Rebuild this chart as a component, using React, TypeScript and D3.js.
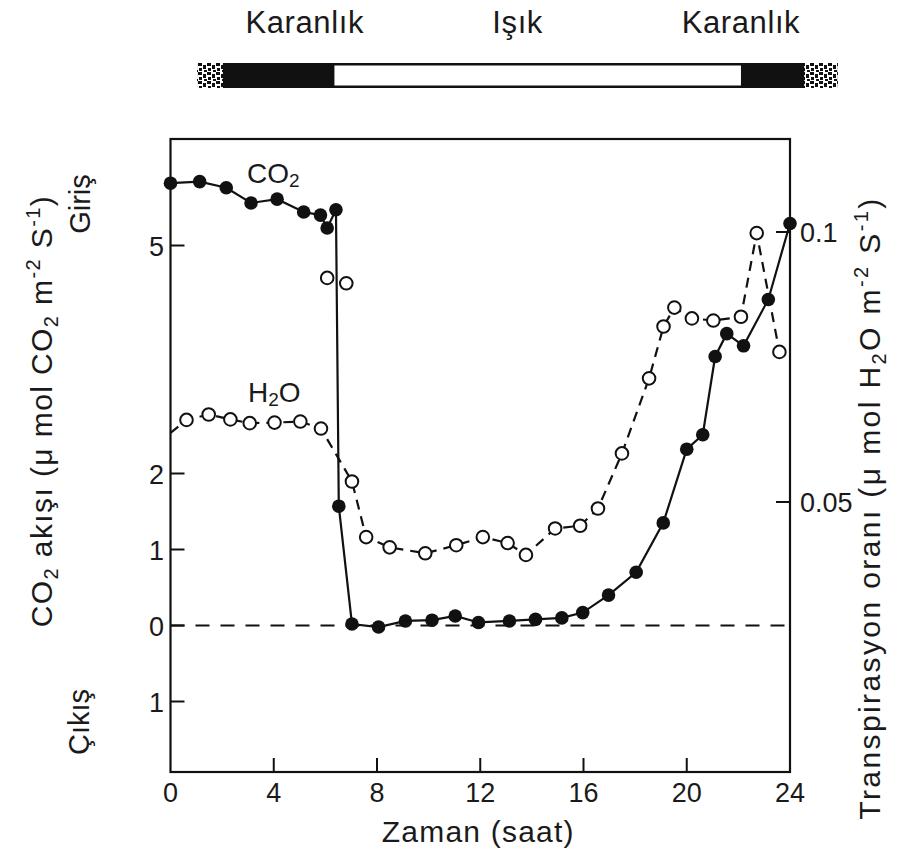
import React from "react";
import * as d3 from "d3";

// ---- data ----
const co2Hours = [0, 1.13, 2.16, 3.12, 4.13, 5.16, 5.81, 6.07, 6.41, 6.52, 7.03, 8.06, 9.1, 10.13, 11.03, 11.93, 13.13, 14.14, 15.16, 15.97, 16.97, 18.04, 19.09, 20.0, 20.62, 21.1, 21.55, 22.2, 23.16, 24.0];
const co2Values = [5.82, 5.84, 5.76, 5.56, 5.61, 5.44, 5.4, 5.23, 5.47, 1.57, 0.02, -0.02, 0.06, 0.07, 0.125, 0.04, 0.06, 0.08, 0.1, 0.17, 0.4, 0.7, 1.35, 2.32, 2.51, 3.54, 3.84, 3.68, 4.29, 5.29];

const h2oHours = [0, 0.62, 1.48, 2.32, 3.07, 4.03, 5.03, 5.83, 7.03, 7.58, 8.49, 9.87, 11.07, 12.1, 13.06, 13.77, 14.9, 15.87, 16.56, 17.49, 18.54, 19.1, 19.52, 20.2, 21.03, 22.1, 22.71, 23.59];
const h2oValues = [0.0628, 0.0652, 0.0662, 0.0653, 0.0646, 0.0647, 0.0649, 0.0636, 0.0538, 0.0435, 0.0416, 0.0405, 0.042, 0.0435, 0.0424, 0.0402, 0.0451, 0.0456, 0.0488, 0.059, 0.0729, 0.0825, 0.086, 0.084, 0.0836, 0.0843, 0.0998, 0.0778];
const h2oExtraHours = [6.07, 6.81];
const h2oExtraValues = [0.0915, 0.0905];

const xTicks = [0, 4, 8, 12, 16, 20, 24];
const leftTicks = [5, 2, 1, 0, -1];
const leftTickLabels = ["5", "2", "1", "0", "1"];
const rightTicks = [0.1, 0.05];
const rightTickLabels = ["0.1", "0.05"];

const periodLabels = ["Karanlık", "Işık", "Karanlık"];
const periodLabelHours = [5.2, 13.45, 22.1];
const lightStart = 6.35;
const lightEnd = 22.1;
const barStart = 1.03;
const barEnd = 25.85;
const stippleLen = 1.0;

const FONT = "'Liberation Sans', Arial, Helvetica, sans-serif";

export default function App() {
  const left = 170.5;
  const right = 790;
  const top = 139;
  const bottom = 772;

  const x = d3.scaleLinear().domain([0, 24]).range([left, right]);
  const yL = d3.scaleLinear().domain([-1, 5]).range([701.5, 245.5]);
  const yR = d3.scaleLinear().domain([0, 0.1]).range([bottom, 232]);

  const co2 = co2Hours.map((h, i) => [h, co2Values[i]] as [number, number]);
  const h2o = h2oHours.map((h, i) => [h, h2oValues[i]] as [number, number]);
  const h2oExtra = h2oExtraHours.map((h, i) => [h, h2oExtraValues[i]] as [number, number]);

  const co2Line = d3.line<[number, number]>().x((d) => x(d[0])).y((d) => yL(d[1]));
  const h2oLine = d3.line<[number, number]>().x((d) => x(d[0])).y((d) => yR(d[1]));

  const barY = 63;
  const barH = 25;
  const tick = 14;

  return (
    <svg
      width={903}
      height={859}
      style={{ position: "absolute", left: 0, top: 0, background: "#fff" }}
      fontFamily={FONT}
    >
      <defs>
        <pattern id="stip" width="9" height="9" patternUnits="userSpaceOnUse">
          <rect width="9" height="9" fill="#fff" />
          <rect x="0" y="0" width="4" height="3" fill="#111" />
          <rect x="5" y="2" width="3" height="4" fill="#111" />
          <rect x="1" y="5" width="3" height="3" fill="#111" />
          <rect x="6" y="7" width="3" height="2" fill="#111" />
        </pattern>
      </defs>
      <rect width={903} height={859} fill="#fff" />

      {/* period labels */}
      {periodLabels.map((t, i) => (
        <text key={i} x={x(periodLabelHours[i])} y={33} fontSize={31} textAnchor="middle" fill="#1a1a1a" letterSpacing={0.6}>
          {t}
        </text>
      ))}

      {/* light/dark bar */}
      <rect x={x(barStart)} y={barY} width={x(barEnd) - x(barStart)} height={barH} fill="#111" />
      <rect x={x(barStart)} y={barY} width={x(barStart + stippleLen) - x(barStart)} height={barH} fill="url(#stip)" />
      <rect x={x(barEnd - stippleLen * 1.3)} y={barY} width={x(barEnd) - x(barEnd - stippleLen * 1.3)} height={barH} fill="url(#stip)" />
      <rect x={x(lightStart)} y={barY + 2.5} width={x(lightEnd) - x(lightStart)} height={barH - 5} fill="#fff" />

      {/* frame */}
      <rect x={left} y={top} width={right - left} height={bottom - top} fill="none" stroke="#111" strokeWidth={2.2} />

      {/* zero dashed line */}
      <line x1={left} x2={right} y1={yL(0)} y2={yL(0)} stroke="#111" strokeWidth={1.8} strokeDasharray="14,11" />

      {/* x ticks */}
      {xTicks.map((t) => (
        <g key={t}>
          {t > 0 && t < 24 && <line x1={x(t)} x2={x(t)} y1={bottom} y2={bottom - tick} stroke="#111" strokeWidth={2} />}
          <text x={x(t)} y={802} fontSize={27} textAnchor="middle" fill="#1a1a1a">
            {t}
          </text>
        </g>
      ))}

      {/* left ticks */}
      {leftTicks.map((t, i) => (
        <g key={i}>
          <line x1={left} x2={left + tick} y1={yL(t)} y2={yL(t)} stroke="#111" strokeWidth={2} />
          <text x={164} y={yL(t) + 10} fontSize={27} textAnchor="end" fill="#1a1a1a">
            {leftTickLabels[i]}
          </text>
        </g>
      ))}

      {/* right ticks */}
      {rightTicks.map((t, i) => (
        <g key={i}>
          <line x1={right} x2={right - tick} y1={yR(t)} y2={yR(t)} stroke="#111" strokeWidth={2} />
          <text x={800} y={yR(t) + 10} fontSize={27} textAnchor="start" fill="#1a1a1a">
            {rightTickLabels[i]}
          </text>
        </g>
      ))}

      {/* x title */}
      <text x={(left + right) / 2 - 2} y={842} fontSize={30} textAnchor="middle" fill="#1a1a1a" letterSpacing={1.2}>
        Zaman (saat)
      </text>

      {/* left title */}
      <text transform="translate(52,411) rotate(-90)" fontSize={30} textAnchor="middle" fill="#1a1a1a" letterSpacing={1.4}>
        CO<tspan fontSize={20} dy={6}>2</tspan>
        <tspan dy={-6}>{" akışı (μ mol CO"}</tspan>
        <tspan fontSize={20} dy={6}>2</tspan>
        <tspan dy={-6}>{" m"}</tspan>
        <tspan fontSize={20} dy={-12}>-2</tspan>
        <tspan dy={12}>{" S"}</tspan>
        <tspan fontSize={20} dy={-12}>-1</tspan>
        <tspan dy={12}>)</tspan>
      </text>
      <text transform="translate(90,204) rotate(-90)" fontSize={29} textAnchor="middle" fill="#1a1a1a">
        Giriş
      </text>
      <text transform="translate(89,722) rotate(-90)" fontSize={29} textAnchor="middle" fill="#1a1a1a">
        Çıkış
      </text>

      {/* right title */}
      <text transform="translate(880,508) rotate(-90)" fontSize={30} textAnchor="middle" fill="#1a1a1a" letterSpacing={2.4}>
        Transpirasyon oranı (μ mol H<tspan fontSize={20} dy={6}>2</tspan>
        <tspan dy={-6}>{"O m"}</tspan>
        <tspan fontSize={20} dy={-12}>-2</tspan>
        <tspan dy={12}>{" S"}</tspan>
        <tspan fontSize={20} dy={-12}>-1</tspan>
        <tspan dy={12}>)</tspan>
      </text>

      {/* series labels */}
      <text x={247} y={183} fontSize={28} fill="#1a1a1a">
        CO<tspan fontSize={19} dy={4}>2</tspan>
      </text>
      <text x={248} y={402} fontSize={28} fill="#1a1a1a">
        H<tspan fontSize={19} dy={4}>2</tspan>
        <tspan dy={-4}>O</tspan>
      </text>

      {/* H2O line */}
      <path d={h2oLine(h2o) || ""} fill="none" stroke="#111" strokeWidth={2.2} strokeDasharray="10,7" />
      {/* CO2 line */}
      <path d={co2Line(co2) || ""} fill="none" stroke="#111" strokeWidth={2.2} />

      {/* H2O markers */}
      {h2o.slice(1).map((d, i) => (
        <circle key={i} cx={x(d[0])} cy={yR(d[1])} r={6.3} fill="#fff" stroke="#111" strokeWidth={2} />
      ))}
      {h2oExtra.map((d, i) => (
        <circle key={"e" + i} cx={x(d[0])} cy={yR(d[1])} r={6.3} fill="#fff" stroke="#111" strokeWidth={2} />
      ))}

      {/* CO2 markers */}
      {co2.map((d, i) => (
        <circle key={i} cx={x(d[0])} cy={yL(d[1])} r={6.8} fill="#111" />
      ))}
    </svg>
  );
}
